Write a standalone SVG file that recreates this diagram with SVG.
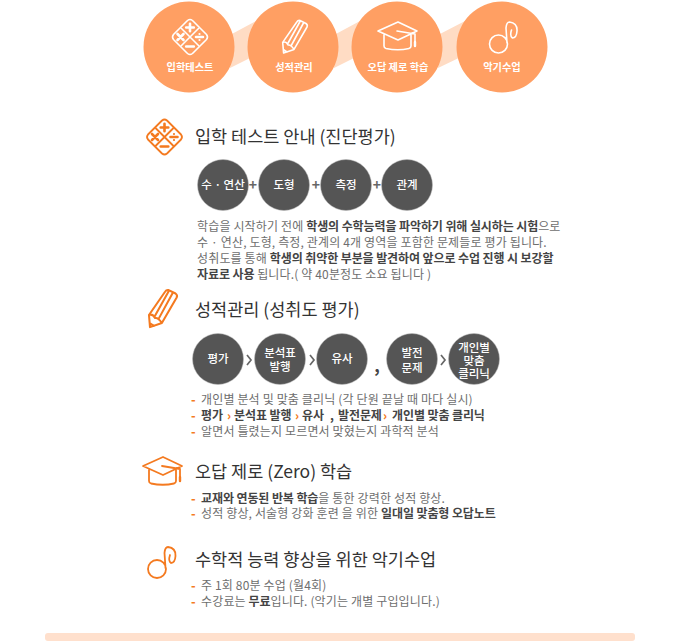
<svg xmlns="http://www.w3.org/2000/svg" width="680" height="641" viewBox="0 0 680 641">
<style>
text{font-family:"Noto Sans CJK KR","Noto Sans",sans-serif}
.tl{font-size:10.2px;font-weight:700;fill:#fff;text-anchor:middle}
.h{font-size:17.5px;fill:#333;font-weight:400}
.c{fill:#555;stroke:#bbb;stroke-width:.5}
.ct{font-size:11.5px;font-weight:500;fill:#fff;text-anchor:middle}
.b{font-size:12px;fill:#6e6e6e;letter-spacing:.15px}
.b tspan.s{font-weight:700;fill:#444;letter-spacing:-.1px}
.d{fill:#f47a20;font-weight:900;font-size:12px}
.o{fill:#666;font-size:14px;font-weight:700;text-anchor:middle}
.iw{fill:none;stroke:#fff;stroke-width:1.6;stroke-linejoin:round;stroke-linecap:round}
.io{fill:none;stroke:#f47a20;stroke-width:1.8;stroke-linejoin:round;stroke-linecap:round}
</style>
<defs>
<g id="math"><path d="M-2.500-16.500Q0-18.500 2.500-16.500L16.500-2.500Q18.500 0 16.500 2.500L2.500 16.500Q0 18.500-2.500 16.500L-16.500 2.500Q-18.500 0-16.500-2.500Z M-8.500-8.500 L8.500 8.500 M8.500-8.500 L-8.500 8.500"/><path stroke-width="2.600" d="M-3.800-9.500H3.800M0-13.300V-5.700M-12.500-3-6.500 3M-6.500-3-12.500 3M6 0H13M-3.800 9.500H3.800"/><path stroke-width="2.200" d="M9.500-3V-3M9.500 3V3"/></g>
<g id="pencil"><path d="M-11.400 15 L-12.300 4.400 L1.800-16 Q3-18 5-17.500 L11-14.500 Q13-13 12-11 L-1 11.400 Z M-12.300 4.400 Q-9 3-7 7 Q-4 6.500-1 11.400 M-7.500 6 L5-16.500 M-4 8 L8.500-15 M-11.700 11.500 L-8 14"/></g>
<g id="cap"><path d="M-20-6 L0-15 L19-6 L0 3 Z M-14-2 V9 Q-14 11-12 11.500 Q0 14 11 11.500 Q13 11 13 9 V-2 M-1-6 L17-3 V9"/><path stroke-width="2.400" d="M17 5V9"/></g>
<g id="note"><path d="M-9 0 A9 9 0 1 0 9 0 A9 9 0 1 0 -9 0 M8.500-1 L7.500-16 Q8-22 11-22 Q19-21 18.500-13 Q18-6 14-6 Q11-8 13-14"/></g>
</defs>
<g id="connectors">
<path d="M230 35 L256 21 V55 L230 68Z M334 35 L360 21 V55 L334 68Z M438 35 L465 21 V55 L438 68Z" fill="#ffdcc4"/>
</g>
<g id="tab1"><circle cx="189" cy="47" r="45.500" fill="#ff9f63"/><use href="#math" x="190" y="37" class="iw"/><text x="190" y="70.500" class="tl">입학테스트</text></g>
<g id="tab2"><circle cx="293" cy="47" r="45.500" fill="#ff9f63"/><use href="#pencil" x="295" y="38" class="iw"/><text x="294" y="70.500" class="tl">성적관리</text></g>
<g id="tab3"><circle cx="397" cy="47" r="45.500" fill="#ff9f63"/><use href="#cap" x="398" y="37" class="iw"/><text x="398" y="70.500" class="tl">오답 제로 학습</text></g>
<g id="tab4"><circle cx="502" cy="47" r="45.500" fill="#ff9f63"/><use href="#note" x="498.500" y="44" class="iw"/><text x="502" y="70.500" class="tl">악기수업</text></g>

<g id="s1-head"><use href="#math" x="164.500" y="137" class="io"/><text x="195" y="143" class="h">입학 테스트 안내 (진단평가)</text></g>
<g id="n-su"><circle cx="223" cy="185" r="25.500" class="c"/><text x="223" y="189" class="ct">수 · 연산</text></g>
<text x="253" y="190" class="o">+</text>
<g id="n-do"><circle cx="284" cy="185" r="25.500" class="c"/><text x="284" y="189" class="ct">도형</text></g>
<text x="316" y="190" class="o">+</text>
<g id="n-cheuk"><circle cx="346" cy="185" r="25.500" class="c"/><text x="346" y="189" class="ct">측정</text></g>
<text x="377" y="190" class="o">+</text>
<g id="n-gwan"><circle cx="407" cy="185" r="25.500" class="c"/><text x="407" y="189" class="ct">관계</text></g>
<g id="s1-body">
<text x="197" y="231" class="b">학습을 시작하기 전에 <tspan class="s">학생의 수학능력을 파악하기 위해 실시하는 시험</tspan>으로</text>
<text x="197" y="247" class="b">수 · 연산, 도형, 측정, 관계의 4개 영역을 포함한 문제들로 평가 됩니다.</text>
<text x="197" y="263" class="b">성취도를 통해 <tspan class="s">학생의 취약한 부분을 발견하여 앞으로 수업 진행 시 보강할</tspan></text>
<text x="197" y="279" class="b"><tspan class="s">자료로 사용</tspan> 됩니다.( 약 40분정도 소요 됩니다 )</text>
</g>

<g id="s2-head"><g transform="translate(163 310) scale(1.14)"><use href="#pencil" class="io"/></g><text x="195" y="316" class="h">성적관리 (성취도 평가)</text></g>
<g id="n-p"><circle cx="218" cy="359" r="25.500" class="c"/><text x="218" y="363" class="ct">평가</text></g>
<g id="n-bun"><circle cx="280" cy="359" r="25.500" class="c"/><text class="ct"><tspan x="280" y="357">분석표</tspan><tspan x="280" y="371">발행</tspan></text></g>
<g id="n-yu"><circle cx="342" cy="359" r="25.500" class="c"/><text x="342" y="363" class="ct">유사</text></g>
<g id="n-bal"><circle cx="412" cy="359" r="25.500" class="c"/><text class="ct"><tspan x="412" y="357">발전</tspan><tspan x="412" y="372">문제</tspan></text></g>
<g id="n-gae"><circle cx="474" cy="359" r="25.500" class="c"/><text class="ct"><tspan x="474" y="352">개인별</tspan><tspan x="474" y="365">맞춤</tspan><tspan x="474" y="378">클리닉</tspan></text></g>
<g id="chevrons" fill="none" stroke="#666" stroke-width="1.700"><path d="M247 355 L251 360 L247 365M310 355 L314 360 L310 365M441 355 L445 360 L441 365"/></g>
<text x="377" y="372" fill="#444" font-size="17" font-weight="700" text-anchor="middle">,</text>
<g id="s2-body">
<text y="404" class="b"><tspan class="d" x="191">-</tspan><tspan x="201">개인별 분석 및 맞춤 클리닉 (각 단원 끝날 때 마다 실시)</tspan></text>
<text y="420" class="b"><tspan class="d" x="191">-</tspan><tspan class="s" x="201">평가</tspan><tspan class="d" x="227">›</tspan><tspan class="s" x="234">분석표 발행</tspan><tspan class="d" x="295">›</tspan><tspan class="s" x="302">유사</tspan><tspan class="s" x="330">,</tspan><tspan class="s" x="338">발전문제</tspan><tspan class="d" x="383">›</tspan><tspan class="s" x="392">개인별 맞춤 클리닉</tspan></text>
<text y="436" class="b"><tspan class="d" x="191">-</tspan><tspan x="201">알면서 틀렸는지 모르면서 맞혔는지 과학적 분석</tspan></text>
</g>

<g id="s3-head"><use href="#cap" x="163" y="472" class="io"/><text x="195" y="478" class="h">오답 제로 (Zero) 학습</text></g>
<g id="s3-body">
<text y="503" class="b"><tspan class="d" x="191">-</tspan><tspan class="s" x="201">교재와 연동된 반복 학습</tspan>을 통한 강력한 성적 향상.</text>
<text y="518" class="b"><tspan class="d" x="191">-</tspan><tspan x="201">성적 향상, 서술형 강화 훈련 을 위한 </tspan><tspan class="s">일대일 맞춤형 오답노트</tspan></text>
</g>

<g id="s4-head"><use href="#note" x="157" y="569" class="io"/><text x="195" y="566" class="h">수학적 능력 향상을 위한 악기수업</text></g>
<g id="s4-body">
<text y="590" class="b"><tspan class="d" x="191">-</tspan><tspan x="201">주 1회 80분 수업 (월4회)</tspan></text>
<text y="606" class="b"><tspan class="d" x="191">-</tspan><tspan x="201">수강료는 </tspan><tspan class="s">무료</tspan>입니다. (악기는 개별 구입입니다.)</text>
</g>
<rect id="footer-bar" x="45" y="633" width="590" height="8" rx="3" fill="#ffe0cd"/>
</svg>
